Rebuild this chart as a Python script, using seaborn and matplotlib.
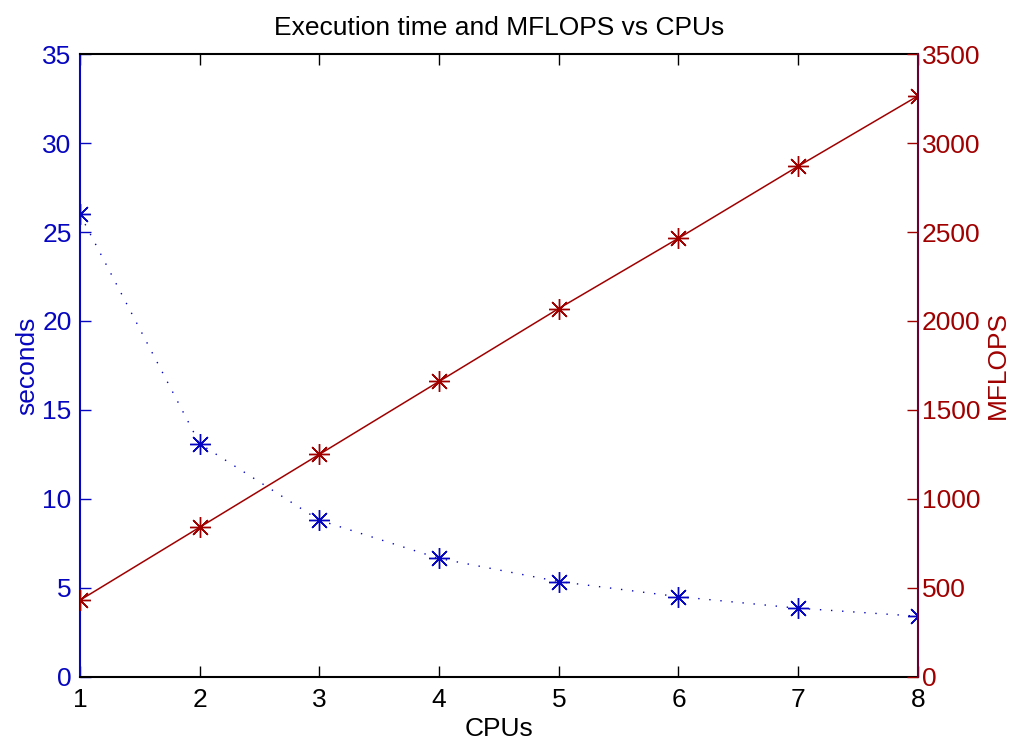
import numpy as np
import pandas as pd
import seaborn as sns
from matplotlib import pyplot as plt

# data
cpus = [1, 2, 3, 4, 5, 6, 7, 8]
seconds = [26.0, 13.1, 8.8, 6.65, 5.35, 4.5, 3.85, 3.4]
mflops = [430, 840, 1250, 1660, 2070, 2465, 2870, 3265]

blue = '#0606c0'
red = '#a00000'

sns.set_style("white")
plt.rcParams['font.family'] = ['Liberation Sans', 'DejaVu Sans']
plt.rcParams['font.size'] = 19
plt.rcParams['text.color'] = 'black'
plt.rcParams['axes.labelcolor'] = 'black'

df = pd.DataFrame({'CPUs': cpus, 'seconds': seconds, 'MFLOPS': mflops})

fig = plt.figure(figsize=(10.12, 7.42), dpi=100)
ax = fig.add_axes([0.079, 0.088, 0.828, 0.839])
ax2 = ax.twinx()

star = (8, 2, 0)

sns.lineplot(data=df, x='CPUs', y='seconds', ax=ax, color=blue,
             linestyle=(0, (1, 7)), linewidth=1.0, marker=star, markersize=15,
             markeredgewidth=1.0, markeredgecolor=blue)
sns.lineplot(data=df, x='CPUs', y='MFLOPS', ax=ax2, color=red,
             linestyle='-', linewidth=1.1, marker=star, markersize=15,
             markeredgewidth=1.0, markeredgecolor=red)

ax.set_xlim(1, 8)
ax.set_ylim(0, 35)
ax2.set_ylim(0, 3500)
ax.set_xticks(cpus)
ax.set_yticks(np.arange(0, 36, 5))
ax2.set_yticks(np.arange(0, 3501, 500))

ax.set_xlabel('CPUs', color='black', labelpad=4)
ax.set_ylabel('seconds', color=blue, labelpad=2)
ax2.set_ylabel('MFLOPS', color=red, labelpad=4)
ax.set_title('Execution time and MFLOPS vs CPUs', fontsize=19, pad=14, color='black')

# matlab style inward ticks
ax.tick_params(axis='x', direction='in', length=8, width=1, colors='black',
               top=True, bottom=True, pad=8, labelsize=19)
ax.tick_params(axis='y', direction='in', length=8, width=1, colors=blue,
               left=True, right=False, pad=6, labelsize=19)
ax2.tick_params(axis='y', direction='in', length=8, width=1, colors=red,
                right=True, pad=3, labelsize=19)

for a in (ax, ax2):
    for s in a.spines.values():
        s.set_linewidth(1.5)
ax.spines['left'].set_color(blue)
ax.spines['bottom'].set_color('black')
ax.spines['top'].set_color('black')
ax.spines['right'].set_visible(False)
ax2.spines['left'].set_visible(False)
ax2.spines['top'].set_visible(False)
ax2.spines['bottom'].set_visible(False)
ax2.spines['right'].set_color('#6a0030')

fig.savefig('out.png', dpi=100)
